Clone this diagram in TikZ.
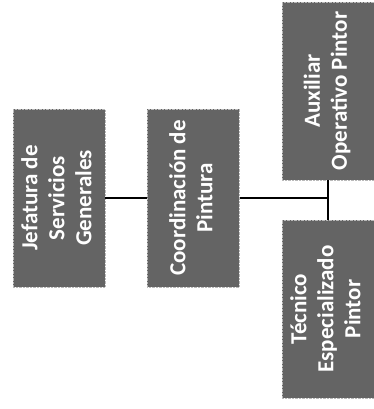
\documentclass[tikz,border=0pt]{standalone}
\usepackage{fontspec}
\setmainfont{Carlito}
\usepackage{graphicx}
\usetikzlibrary{positioning}
\definecolor{boxgray}{HTML}{646464}
\newcommand{\uptext}[1]{\rotatebox{90}{\begin{tabular}{@{}c@{}}#1\end{tabular}}}

\begin{document}
\begin{tikzpicture}[
  x=1pt, y=1pt,
  box/.style={rectangle, draw=gray!55, densely dotted, fill=boxgray, text=white, font=\fontsize{23}{27}\selectfont\bfseries, minimum width=92pt, minimum height=178pt, inner sep=0pt},
  link/.style={line width=1.1pt}
]
  \useasboundingbox (0,0) rectangle (374,409);
  \node[box] (jef) at (59,211) {\uptext{Jefatura de\\Servicios\\Generales}};
  \node[box, right=42pt of jef] (coord) {\uptext{Coordinación de\\Pintura}};
  \node[box] (aux) at (328,318) {\uptext{Auxiliar\\Operativo Pintor}};
  \node[box] (tec) at (328,100) {\uptext{Técnico\\Especializado\\Pintor}};
  \draw[link] (jef) -- (coord);
  \draw[link] (coord.east) -- (coord.east -| aux.south);
  \draw[link] (aux.south) -- (tec.north);
\end{tikzpicture}
\end{document}
